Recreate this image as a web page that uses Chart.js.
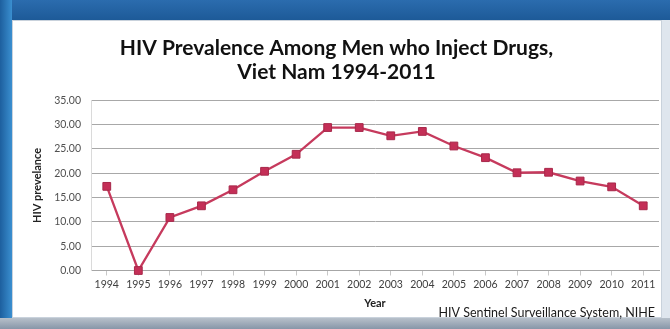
<!DOCTYPE html>
<html>
<head>
<meta charset="utf-8">
<script src="https://cdn.jsdelivr.net/npm/chart.js@4/dist/chart.umd.min.js"></script>
<style>
  html, body { margin: 0; padding: 0; }
  body { width: 670px; height: 329px; position: relative; overflow: hidden; background: #dfe6ee; }
  .band { position: absolute; left: 0; top: 0; width: 670px; height: 20px; background: linear-gradient(#2b6cae, #1d5a98); }
  .side { position: absolute; left: 0; top: 0; width: 12px; height: 329px; background: linear-gradient(90deg, #1d5f9e, #3a8fd0); }
  .panel { position: absolute; left: 12px; top: 20px; width: 650px; height: 298px; background: #fff; border: 1px solid #c9d2dc; box-sizing: border-box; }
  .bottom { position: absolute; left: 0; top: 318px; width: 670px; height: 11px; background: linear-gradient(#b7c0ca, #8796a8); }
  .wrap { position: absolute; left: 0; top: 0; width: 670px; height: 329px; }
  canvas { display: block; }
</style>
</head>
<body>
<div class="band"></div>
<div class="side"></div>
<div class="bottom"></div>
<div class="panel"></div>
<div class="wrap"><canvas id="hivChart" width="670" height="329"></canvas></div>
<script>
var years = ['1994','1995','1996','1997','1998','1999','2000','2001','2002',
             '2003','2004','2005','2006','2007','2008','2009','2010','2011'];
var prevalence = [17.3, 0, 10.9, 13.3, 16.6, 20.4, 23.9, 29.4, 29.4,
                  27.7, 28.6, 25.6, 23.2, 20.1, 20.2, 18.4, 17.2, 13.3];
var titleLines = ['HIV Prevalence Among Men who Inject Drugs,', 'Viet Nam 1994-2011'];
var sourceNote = 'HIV Sentinel Surveillance System, NIHE';

var footnote = {
  id: 'footnote',
  afterDraw: function(chart) {
    var ctx = chart.ctx;
    ctx.save();
    ctx.font = '12.5px Lato';
    ctx.fillStyle = '#1a1a1a';
    ctx.textAlign = 'right';
    ctx.textBaseline = 'middle';
    ctx.fillText(sourceNote, 655, 313);
    ctx.restore();
  }
};

var ctx = document.getElementById('hivChart').getContext('2d');
var hivChart = new Chart(ctx, {
  type: 'line',
  data: {
    labels: years,
    datasets: [{
      label: 'HIV prevelance',
      data: prevalence,
      borderColor: '#c63a5d',
      borderWidth: 2.3,
      pointStyle: 'rect',
      pointRadius: 5.5,
      pointBackgroundColor: '#c42f57',
      pointBorderColor: '#a8284a',
      pointBorderWidth: 1,
      tension: 0,
      clip: false
    }]
  },
  options: {
    responsive: false,
    animation: false,
    layout: { padding: { left: 14, top: 22, right: 11, bottom: 18.5 } },
    plugins: {
      legend: { display: false },
      tooltip: { enabled: false },
      title: {
        display: true,
        text: titleLines,
        color: '#111',
        font: { family: 'Lato', size: 21, weight: 'bold', lineHeight: 1.15 },
        padding: { top: 14, bottom: 16 }
      }
    },
    scales: {
      x: {
        offset: true,
        grid: { drawOnChartArea: false, drawTicks: true, tickLength: 5, color: '#c8c8c8' },
        border: { color: '#a6a6a6' },
        ticks: { color: '#404040', font: { family: 'Lato', size: 10.5 }, padding: 3, maxRotation: 0, autoSkip: false },
        title: { display: true, text: 'Year', color: '#222', font: { family: 'Lato', size: 11, weight: 'bold' }, padding: { top: 0, bottom: 0 } },
        afterFit: function(scale) { scale.height = 40; }
      },
      y: {
        min: 0,
        max: 35,
        grid: { color: '#a8a8a8', drawTicks: false },
        border: { color: '#dadada' },
        ticks: {
          stepSize: 5,
          padding: 10,
          color: '#505050',
          font: { family: 'Lato', size: 10.5 },
          callback: function(v) { return v.toFixed(2); }
        },
        title: { display: true, text: 'HIV prevelance', color: '#222', font: { family: 'Lato', size: 11, weight: 'bold' }, padding: { top: 17, bottom: 0 } },
        afterFit: function(scale) { scale.width = 77; }
      }
    }
  },
  plugins: [footnote]
});
</script>
</body>
</html>
